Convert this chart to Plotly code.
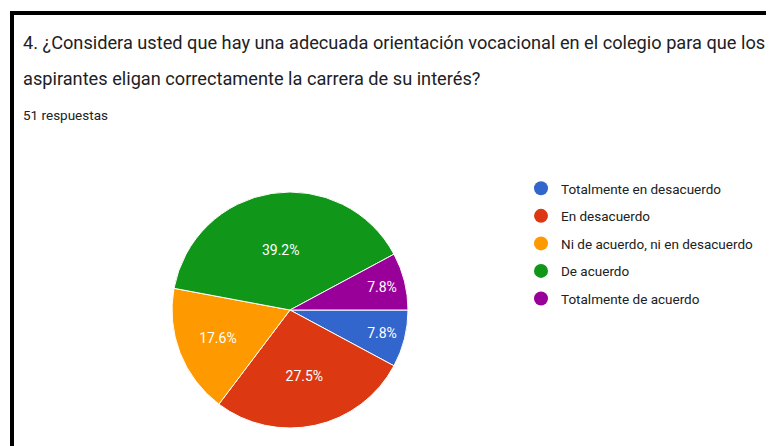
import plotly.graph_objects as go

categories = ["Totalmente en desacuerdo", "En desacuerdo",
              "Ni de acuerdo, ni en desacuerdo", "De acuerdo",
              "Totalmente de acuerdo"]
counts = [4, 14, 9, 20, 4]
colors = ["#3366cc", "#dc3912", "#ff9900", "#109618", "#990099"]
title_lines = ["4. ¿Considera usted que hay una adecuada orientación vocacional en el colegio para que los",
               "aspirantes eligan correctamente la carrera de su interés?"]
subtitle = "51 respuestas"

W, H = 766, 446
FONT = "Roboto, Arial, sans-serif"

fig = go.Figure()
fig.add_trace(go.Pie(
    labels=categories, values=counts, sort=False, direction="clockwise",
    rotation=90, marker=dict(colors=colors, line=dict(color="white", width=1)),
    textinfo="percent", texttemplate="%{percent:.1%}", textposition="inside",
    insidetextorientation="horizontal",
    textfont=dict(color="white", size=14, family=FONT),
    showlegend=False,
    domain=dict(x=[172 / W, 408 / W], y=[(136 - 118) / H, (136 + 118) / H]),
    hoverinfo="label+percent",
))
for i, (c, col) in enumerate(zip(categories, colors)):
    fig.add_trace(go.Scatter(
        x=[None], y=[None], mode="markers", name=c,
        marker=dict(color=col, size=14, symbol="circle"),
        legendgroup=f"g{i}", showlegend=True,
    ))

fig.update_layout(
    width=W, height=H, margin=dict(l=0, r=0, t=0, b=0),
    paper_bgcolor="white", plot_bgcolor="white",
    xaxis=dict(visible=False), yaxis=dict(visible=False),
    font=dict(family=FONT, color="#212121"),
    legend=dict(x=521 / W, y=1 - 173 / H, xanchor="left", yanchor="top",
                font=dict(size=13.5, family=FONT, color="#212121"),
                tracegroupgap=7, traceorder="grouped", itemwidth=30),
    annotations=[
        dict(text=title_lines[0], x=21 / W, y=1 - 43 / H, xref="paper", yref="paper",
             xanchor="left", yanchor="middle", showarrow=False,
             font=dict(size=18.2, family=FONT, color="#202124")),
        dict(text=title_lines[1], x=21 / W, y=1 - 78 / H, xref="paper", yref="paper",
             xanchor="left", yanchor="middle", showarrow=False,
             font=dict(size=18.2, family=FONT, color="#202124")),
        dict(text=subtitle, x=21 / W, y=1 - 115 / H, xref="paper", yref="paper",
             xanchor="left", yanchor="middle", showarrow=False,
             font=dict(size=13.5, family=FONT, color="#202124")),
    ],
    shapes=[
        dict(type="line", xref="paper", yref="paper", x0=10 / W, x1=1, y0=1 - 13 / H, y1=1 - 13 / H,
             line=dict(color="black", width=4)),
        dict(type="line", xref="paper", yref="paper", x0=12 / W, x1=12 / W, y0=1 - 11 / H, y1=0,
             line=dict(color="black", width=4)),
    ],
)
fig.write_html("out.html", config={"displayModeBar": False},
               post_script="document.body.style.margin='0';document.body.style.overflow='hidden';")
